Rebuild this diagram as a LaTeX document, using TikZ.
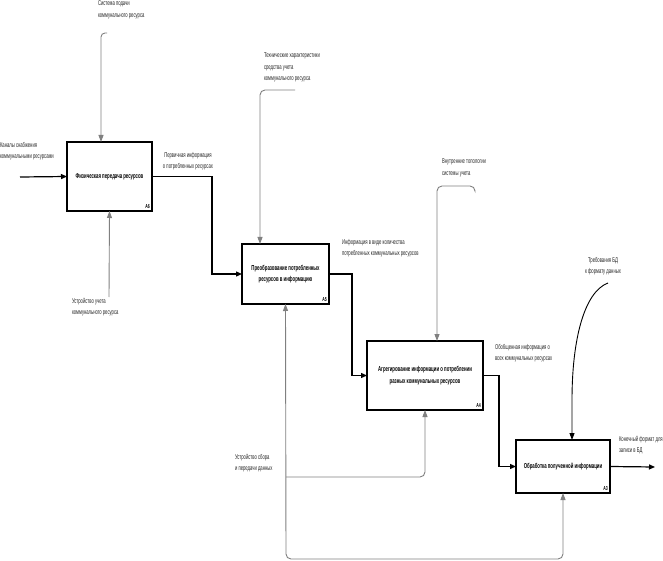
\documentclass[tikz,border=0pt]{standalone}
\usepackage{fontspec}
\setmainfont{Liberation Sans}
\newfontfamily\nar[FakeStretch=0.6]{Liberation Sans}
\usetikzlibrary{arrows.meta,calc}
\begin{document}
\begin{tikzpicture}[x=1bp,y=-1bp,
  box/.style={draw=black,line width=1.5bp,fill=white,inner sep=0pt,outer sep=0pt,align=center,
    font=\nar\bfseries\fontsize{7.2}{11.5}\selectfont},
  lbl/.style={inner sep=0pt,outer sep=0pt,align=left,text=black!85,font=\nar\fontsize{7}{11.5}\selectfont},
  clbl/.style={lbl,align=center},
  num/.style={inner sep=0pt,anchor=south east,font=\nar\bfseries\fontsize{5.8}{6}\selectfont},
  flow/.style={draw=black,line width=1.2bp,-{Triangle[length=6bp,width=5bp]}},
  ctrl/.style={draw=black!50,line width=0.9bp,-{Triangle[length=7bp,width=5bp]}},
  mtip/.tip={Triangle[length=7bp,width=5bp]},
]
\useasboundingbox (0,0) rectangle (663,561);
\fill[white] (0,0) rectangle (663,561);

% boxes
\node[box,minimum width=85bp,minimum height=69bp] (A6) at (109.5,176.5) {Физическая передача ресурсов};
\node[box,minimum width=87bp,minimum height=60bp] (A5) at (285.5,274) {Преобразование потребленных\\ресурсов в информацию};
\node[box,minimum width=116bp,minimum height=69bp] (A4) at (425,375.5) {Агрегирование информации о потреблении\\разных коммунальных ресурсов};
\node[box,minimum width=94bp,minimum height=53bp] (A3) at (563,466.5) {Обработка полученной информации};
\node[num] (n6) at ($(A6.south east)+(-2,-2)$) {A6};
\node[num] (n5) at ($(A5.south east)+(-2,-2)$) {A5};
\node[num] (n4) at ($(A4.south east)+(-2,-2)$) {A4};
\node[num] (n3) at ($(A3.south east)+(-2,-2)$) {A3};

% A6
\coordinate (in6) at (20,177);
\draw[flow] (in6) -- (A6.west);
\node[lbl,anchor=north west] (l1) at (0,142) {Каналы снабжения\\коммунальными ресурсами};
\coordinate (c6) at (107,33);
\draw[ctrl,rounded corners=4] (c6) -| ($(A6.north)+(-8.5,0)$);
\node[lbl,anchor=north west] (l2) at (98,1) {Система подачи\\коммунального ресурса};
\coordinate (m6) at (109,297);
\draw[ctrl] (m6) -- (A6.south);
\node[lbl,anchor=north west] (l3) at (72,298) {Устройство учета\\коммунального ресурса};

% A6 -> A5
\draw[flow] (A6.east) -| ($(A5.west)+(-30,0)$) -- (A5.west);
\node[clbl] (l4) at (188,161) {Первичная информация\\о потребленных ресурсах};

% A5 control
\coordinate (c5) at (295,90);
\draw[ctrl,rounded corners=5] (c5) -| ($(A5.north)+(-25.5,0)$);
\node[lbl,anchor=north west] (l5) at (264,53) {Технические характеристики\\средства учета\\коммунального ресурса};

% A5 -> A4
\draw[flow] (A5.east) -| ($(A4.west)+(-15,0)$) -- (A4.west);
\node[lbl,anchor=north west] (l6) at (342,239) {Информация в виде количества\\потребленных коммунальных ресурсов};

% A4 control
\coordinate (c4) at (475,190);
\draw[ctrl,rounded corners=5] (c4) -- (475,186) -| ($(A4.north)+(12,0)$);
\node[lbl,anchor=north west] (l7) at (442,159) {Внутренние топологии\\системы учета};

% A4 -> A3
\draw[flow] (A4.east) -| ($(A3.west)+(-17,0)$) -- (A3.west);
\node[lbl,anchor=north west] (l8) at (495,344) {Обобщенная информация о\\всех коммунальных ресурсах};

% A3 control
\coordinate (c3) at (608,283);
\draw[draw=black,line width=0.9bp,-{Triangle[length=7bp,width=5bp]}] (c3) .. controls (584,292) and (572,340) .. (572,400) -- ($(A3.north)+(9,0)$);
\node[clbl] (l9) at (603,266) {Требования БД\\к формату данных};

% A3 output
\coordinate (o3) at (655,467);
\draw[flow] (A3.east) -- (o3);
\node[lbl,anchor=north west] (l10) at (619,436) {Конечный формат для\\записи в БД};

% mechanisms
\coordinate (b1) at (286,559);
\coordinate (j1) at (286,477);
\draw[draw=black!50,line width=0.9bp,rounded corners=5,{mtip}-{mtip}] (A3.south) |- (b1) -- (A5.south);
\draw[ctrl,rounded corners=5] (j1) -| (A4.south);
\node[lbl,anchor=north west] (l11) at (235,454) {Устройство сбора\\и передачи данных};
\end{tikzpicture}
\end{document}
